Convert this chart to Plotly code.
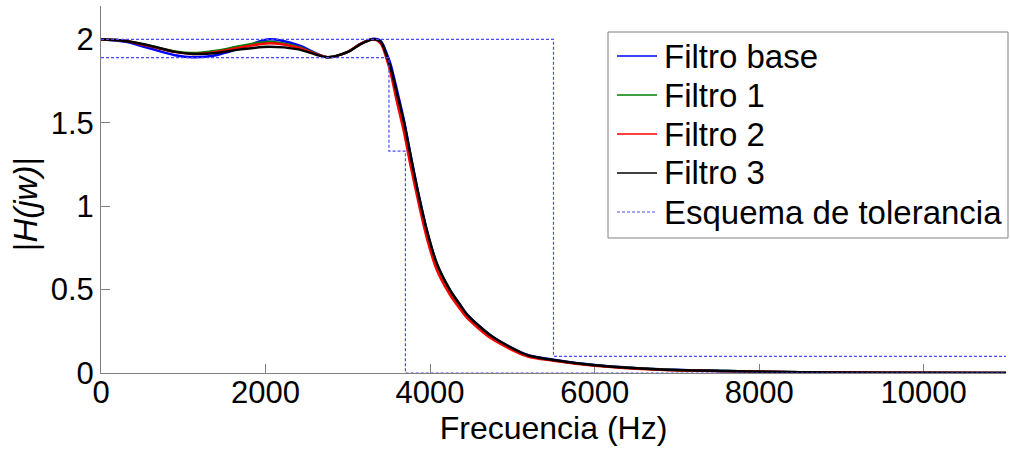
import plotly.graph_objects as go

# Frequency grid (Hz) shared by the four magnitude responses
freq_hz = [0, 300, 600, 900, 1120, 1400, 1700, 2050, 2400, 2750, 3000, 3150,
           3310, 3400, 3480, 3520, 3600, 3680, 3760, 3860, 3960, 4080, 4240,
           4370, 4450, 4750, 5180, 5500, 6000, 6800, 7600, 8500, 9500, 11000]

# |H(jw)| for each filter
h_base = [2.0, 1.985, 1.945, 1.905, 1.893, 1.905, 1.948, 2.0, 1.965, 1.893, 1.925, 1.972,
          2.003, 1.99, 1.905, 1.85, 1.69, 1.52, 1.315, 1.07, 0.855, 0.655, 0.498,
          0.405, 0.35, 0.22, 0.108, 0.08, 0.048, 0.022, 0.012, 0.005, 0.002, 0.0005]
h_f1 = [2.0, 1.99, 1.96, 1.928, 1.918, 1.932, 1.96, 1.986, 1.955, 1.893, 1.925, 1.97,
        2.0, 1.98, 1.88, 1.815, 1.645, 1.48, 1.28, 1.045, 0.835, 0.64, 0.485,
        0.393, 0.34, 0.213, 0.104, 0.077, 0.046, 0.021, 0.0115, 0.0045, 0.0018, 0.0005]
h_f2 = [2.0, 1.99, 1.958, 1.925, 1.912, 1.925, 1.952, 1.976, 1.95, 1.893, 1.925, 1.972,
        2.0, 1.975, 1.87, 1.80, 1.62, 1.45, 1.25, 1.02, 0.81, 0.62, 0.47,
        0.38, 0.33, 0.205, 0.10, 0.074, 0.044, 0.02, 0.011, 0.004, 0.0015, 0.0004]
h_f3 = [2.0, 1.99, 1.962, 1.925, 1.913, 1.918, 1.94, 1.955, 1.94, 1.893, 1.925, 1.97,
        2.0, 1.985, 1.89, 1.83, 1.67, 1.51, 1.31, 1.07, 0.857, 0.66, 0.50,
        0.405, 0.35, 0.22, 0.108, 0.078, 0.046, 0.021, 0.012, 0.005, 0.002, 0.0005]

# Tolerance scheme (upper and lower bounds)
tol_upper_x = [0, 5500, 5500, 11000]
tol_upper_y = [2.0, 2.0, 0.1, 0.1]
tol_lower_x = [0, 3500, 3500, 3700, 3700, 11000]
tol_lower_y = [1.89, 1.89, 1.33, 1.33, 0.0, 0.0]

x_ticks = [0, 2000, 4000, 6000, 8000, 10000]
x_tick_text = ["0", "2000", "4000", "6000", "8000", "10000"]
y_ticks = [0, 0.5, 1, 1.5, 2]
y_tick_text = ["0", "0.5", "1", "1.5", "2"]

legend_names = ["Filtro base", "Filtro 1", "Filtro 2", "Filtro 3", "Esquema de tolerancia"]

FONT = "Liberation Sans, Arial, sans-serif"
TOL_COLOR = "#4a4aff"
TOL_DASH = "3px,2px"
COLORS = ["#0000ff", "#008000", "#ff0000", "#000000"]

# Page geometry (px) of the plotting area
W, H = 1010, 449
ML, MR, MT, MB = 101, 4, 6, 76
PW, PH = W - ML - MR, H - MT - MB


def px_to_paper(px, py):
    """Convert page pixels to paper coordinates of the plotting area."""
    return (px - ML) / PW, (H - MB - py) / PH


fig = go.Figure()

for name, values, color in zip(legend_names[:4], [h_base, h_f1, h_f2, h_f3], COLORS):
    fig.add_trace(go.Scatter(
        x=freq_hz, y=values, name=name, mode="lines", showlegend=False,
        line=dict(color=color, width=2.5, shape="spline", smoothing=0.8),
    ))

for tx, ty in [(tol_upper_x, tol_upper_y), (tol_lower_x, tol_lower_y)]:
    fig.add_trace(go.Scatter(
        x=tx, y=ty, name=legend_names[4], mode="lines", showlegend=False,
        line=dict(color=TOL_COLOR, width=1.2, dash=TOL_DASH),
    ))

# Legend box drawn in paper space
bx0, by0 = px_to_paper(608, 238)
bx1, by1 = px_to_paper(1008, 32)
fig.add_shape(type="rect", xref="paper", yref="paper", x0=bx0, y0=by0, x1=bx1, y1=by1,
              line=dict(color="#808080", width=1), fillcolor="white", layer="above")

row_y = [56, 95, 134, 173, 212]
styles = [dict(color=c, width=1.5) for c in COLORS] + [dict(color=TOL_COLOR, width=1, dash=TOL_DASH)]
for name, ry, st in zip(legend_names, row_y, styles):
    lx0, ly = px_to_paper(617, ry)
    lx1, _ = px_to_paper(657, ry)
    fig.add_shape(type="line", xref="paper", yref="paper", x0=lx0, y0=ly, x1=lx1, y1=ly,
                  line=st, layer="above")
    tx, _ = px_to_paper(662, ry)
    fig.add_annotation(text=name, xref="paper", yref="paper", x=tx, y=ly,
                       xanchor="left", yanchor="middle", showarrow=False,
                       font=dict(family=FONT, size=33, color="black"))

axis_common = dict(
    showgrid=False, zeroline=False, showline=True, linecolor="#808080",
    linewidth=1, ticks="inside", ticklen=9, tickcolor="#808080",
    tickfont=dict(family=FONT, size=31, color="black"), mirror=False,
    layer="below traces",
)

fig.update_layout(
    width=W, height=H,
    margin=dict(l=ML, r=MR, t=MT, b=MB),
    paper_bgcolor="white", plot_bgcolor="white",
    font=dict(family=FONT, color="black"),
    xaxis=dict(range=[0, 11000], tickvals=x_ticks, ticktext=x_tick_text,
               ticklabelstandoff=-8, **axis_common,
               title=dict(text="Frecuencia (Hz)", font=dict(family=FONT, size=32),
                          standoff=0)),
    yaxis=dict(range=[0, 2.2], tickvals=y_ticks, ticktext=y_tick_text, **axis_common),
    showlegend=False,
)

fig.add_annotation(
    text="|<i>H(jw)</i>|", xref="paper", yref="paper",
    x=-0.084, y=0.46, xanchor="center", yanchor="middle",
    textangle=-90, showarrow=False,
    font=dict(family=FONT, size=33, color="black"),
)

fig.write_html("out.html")
